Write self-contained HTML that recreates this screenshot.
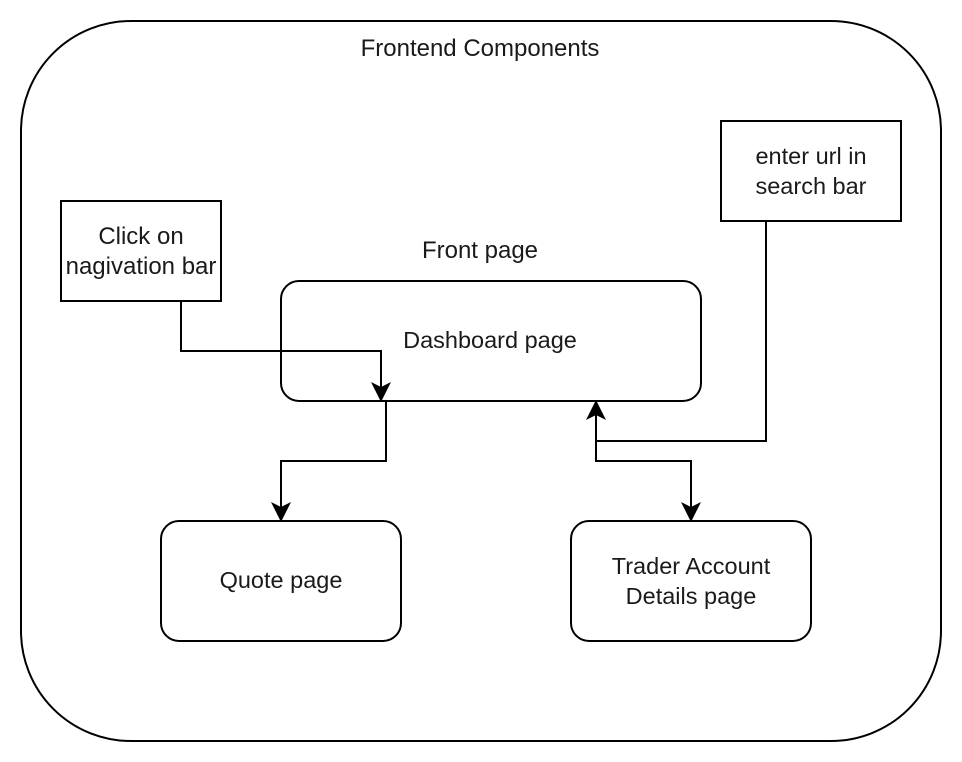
<!DOCTYPE html>
<html><head><meta charset="utf-8"><style>
html,body{margin:0;padding:0;background:#fff;width:962px;height:762px;overflow:hidden}
text{font-family:"Liberation Sans",sans-serif;fill:#1a1a1a}
.s{font-size:24px}
.n{font-size:23.5px}
</style></head><body>
<svg width="962" height="762" xmlns="http://www.w3.org/2000/svg">
<g fill="none" stroke="#000" stroke-width="2">
<rect x="21" y="21" width="920" height="720" rx="110" ry="110"/>
<rect x="61" y="201" width="160" height="100"/>
<rect x="721" y="121" width="180" height="100"/>
<rect x="281" y="281" width="420" height="120" rx="18" ry="18"/>
<rect x="161" y="521" width="240" height="120" rx="18" ry="18"/>
<rect x="571" y="521" width="240" height="120" rx="18" ry="18"/>
<polyline points="181,301 181,351 381,351 381,390"/>
<polyline points="386,401 386,461 281,461 281,510"/>
<polyline points="766,221 766,441 596,441 596,412"/>
<polyline points="596,441 596,461 691,461 691,510"/>
</g>
<g fill="#000">
<polygon points="371,382 381,387 391,382 381,402"/>
<polygon points="271,502 281,507 291,502 281,522"/>
<polygon points="681,502 691,507 701,502 691,522"/>
<polygon points="586,420 596,415 606,420 596,400"/>
</g>
<text class="s" x="480" y="56" text-anchor="middle">Frontend Components</text>
<text class="s" x="480" y="258" text-anchor="middle">Front page</text>
<text class="n" x="490" y="348" text-anchor="middle">Dashboard page</text>
<text class="s" x="141" y="244" text-anchor="middle">Click on</text>
<text class="s" x="141" y="274" text-anchor="middle">nagivation bar</text>
<text class="n" x="811" y="164" text-anchor="middle">enter url in</text>
<text class="n" x="811" y="194" text-anchor="middle">search bar</text>
<text class="n" x="281" y="588" text-anchor="middle">Quote page</text>
<text class="n" x="691" y="574" text-anchor="middle">Trader Account</text>
<text class="n" x="691" y="604" text-anchor="middle">Details page</text>
</svg>
</body></html>
